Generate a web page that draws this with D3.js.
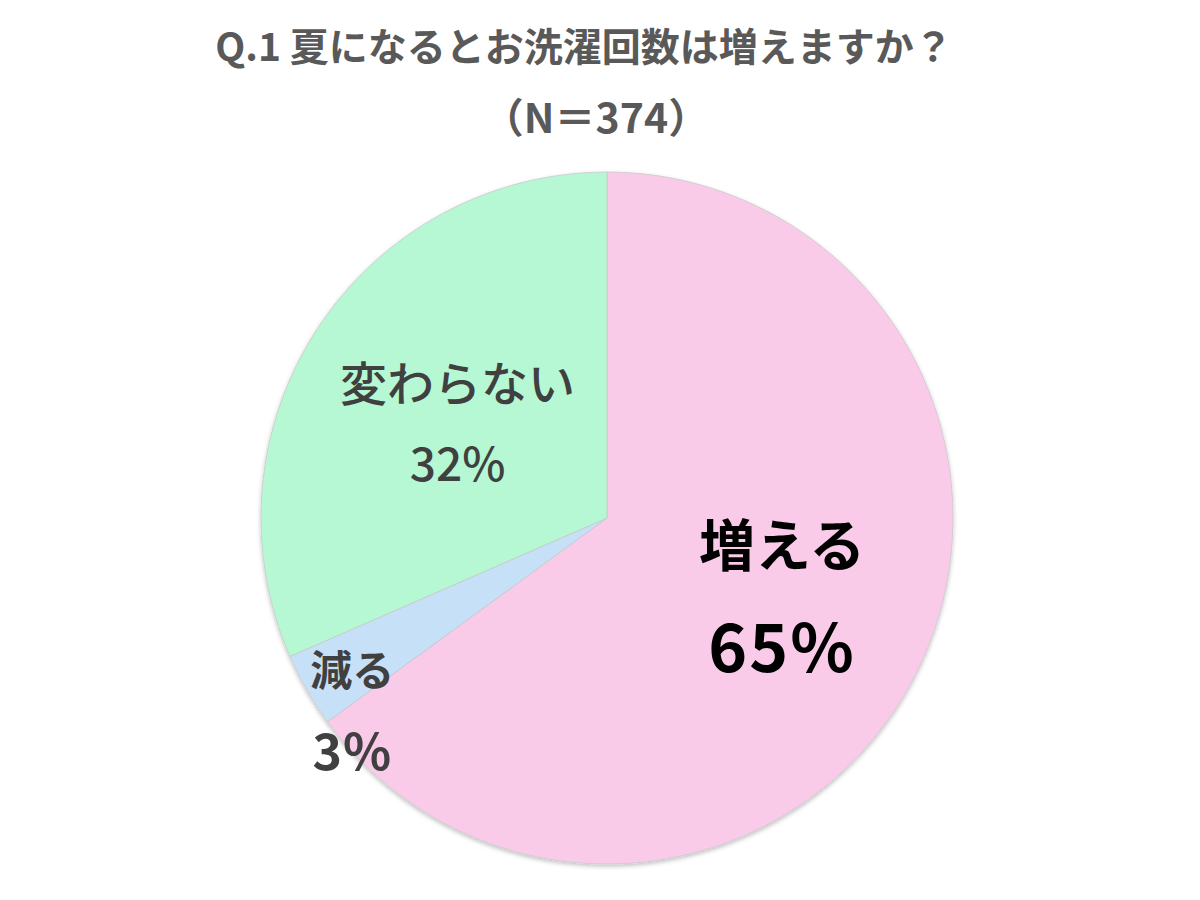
<!DOCTYPE html>
<html>
<head>
<meta charset="utf-8">
<script src="https://cdn.jsdelivr.net/npm/d3@7"></script>
<style>
  body { margin: 0; background: #fff; }
  text { font-family: "Noto Sans CJK JP", "Noto Sans", sans-serif; }
</style>
</head>
<body>
<script>
// answers and counts (N = 374)
var categories = ["増える", "減る", "変わらない"];
var counts = [243, 13, 118];
var pctLabels = ["65%", "3%", "32%"];
var colors = ["#f9cbe9", "#c6e1f7", "#b5f8d3"];

var title1 = "Q.1 夏になるとお洗濯回数は増えますか？",
    title2 = "（N＝374）";

var width = 1200, height = 900;
var cx = 607, cy = 518, radius = 346;

// label layout: radius fraction, angle shift (deg), style
var labelLayout = [
    { r: 0.555, da: -2.7, size1: 56, size2: 66, gap: 102, ls2: 2, fill: "#000", weight1: 700, weight2: 700 },
    { r: 0.925, da: -7.4, size1: 42, size2: 50, gap: 81, ls2: 1, fill: "#404040", weight1: 700, weight2: 700 },
    { r: 0.51, da: -1.1, size1: 47, size2: 46, gap: 81, ls2: 0, fill: "#404040", weight1: 500, weight2: 500 }
];

var svg = d3.select("body")
    .append("svg")
    .attr("width", width)
    .attr("height", height);

var defs = svg.append("defs");
var f = defs.append("filter").attr("id", "shadow")
    .attr("x", "-10%").attr("y", "-10%").attr("width", "120%").attr("height", "120%");
f.append("feDropShadow")
    .attr("dx", 0).attr("dy", 2).attr("stdDeviation", 2)
    .attr("flood-color", "#000").attr("flood-opacity", 0.25);

svg.append("text")
    .attr("x", 584).attr("y", 61)
    .attr("text-anchor", "middle")
    .attr("font-size", 39).attr("font-weight", 700)
    .attr("fill", "#595959")
    .text(title1);

svg.append("text")
    .attr("x", 596).attr("y", 133)
    .attr("text-anchor", "middle")
    .attr("font-size", 41).attr("font-weight", 700)
    .attr("fill", "#595959")
    .text(title2);

var pie = d3.pie().sort(null).value(function(d){ return d; });
var arcs = pie(counts);

var arc = d3.arc().innerRadius(0).outerRadius(radius);

var g = svg.append("g")
    .attr("transform", "translate(" + cx + "," + cy + ")");

g.append("g")
    .attr("filter", "url(#shadow)")
    .selectAll("path")
    .data(arcs)
    .enter()
    .append("path")
    .attr("d", arc)
    .attr("fill", function(d, i){ return colors[i]; })
    .attr("stroke", "#c9c9c9")
    .attr("stroke-width", 0.8);

var labels = g.selectAll(".lbl")
    .data(arcs)
    .enter()
    .append("g")
    .attr("class", "lbl")
    .attr("transform", function(d, i){
        var L = labelLayout[i];
        var a = (d.startAngle + d.endAngle) / 2 + L.da * Math.PI / 180;
        var r = radius * L.r;
        return "translate(" + (r * Math.sin(a)) + "," + (-r * Math.cos(a)) + ")";
    });

labels.append("text")
    .attr("text-anchor", "middle")
    .attr("y", function(d, i){ return -labelLayout[i].gap / 2 + labelLayout[i].size1 * 0.36; })
    .attr("font-size", function(d, i){ return labelLayout[i].size1; })
    .attr("font-weight", function(d, i){ return labelLayout[i].weight1; })
    .attr("fill", function(d, i){ return labelLayout[i].fill; })
    .text(function(d, i){ return categories[i]; });

labels.append("text")
    .attr("text-anchor", "middle")
    .attr("y", function(d, i){ return labelLayout[i].gap / 2 + labelLayout[i].size2 * 0.36; })
    .attr("font-size", function(d, i){ return labelLayout[i].size2; })
    .attr("font-weight", function(d, i){ return labelLayout[i].weight2; })
    .attr("letter-spacing", function(d, i){ return labelLayout[i].ls2; })
    .attr("fill", function(d, i){ return labelLayout[i].fill; })
    .text(function(d, i){ return pctLabels[i]; });
</script>
</body>
</html>
